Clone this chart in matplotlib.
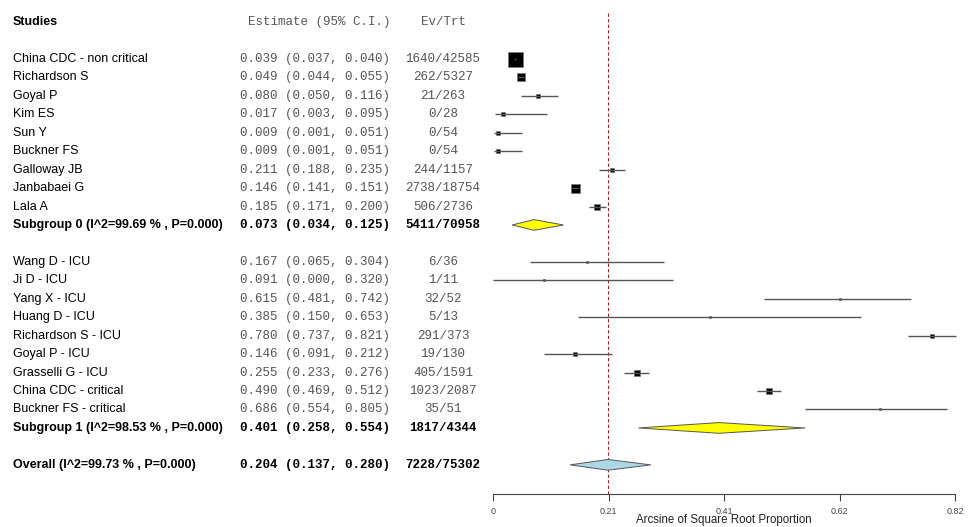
import numpy as np
import matplotlib
matplotlib.use('Agg')
import matplotlib.pyplot as plt
from matplotlib.transforms import blended_transform_factory
from matplotlib.patches import Polygon

# subgroup 0 studies
names0 = ['China CDC - non critical', 'Richardson S', 'Goyal P', 'Kim ES', 'Sun Y',
          'Buckner FS', 'Galloway JB', 'Janbabaei G', 'Lala A']
est0 = [0.039, 0.049, 0.080, 0.017, 0.009, 0.009, 0.211, 0.146, 0.185]
lo0 = [0.037, 0.044, 0.050, 0.003, 0.001, 0.001, 0.188, 0.141, 0.171]
hi0 = [0.040, 0.055, 0.116, 0.095, 0.051, 0.051, 0.235, 0.151, 0.200]
evtrt0 = ['1640/42585', '262/5327', '21/263', '0/28', '0/54', '0/54',
          '244/1157', '2738/18754', '506/2736']
w0 = [225, 64, 16, 12, 16, 16, 20, 81, 36]

# subgroup 1 studies
names1 = ['Wang D - ICU', 'Ji D - ICU', 'Yang X - ICU', 'Huang D - ICU',
          'Richardson S - ICU', 'Goyal P - ICU', 'Grasselli G - ICU',
          'China CDC - critical', 'Buckner FS - critical']
est1 = [0.167, 0.091, 0.615, 0.385, 0.780, 0.146, 0.255, 0.490, 0.686]
lo1 = [0.065, 0.000, 0.481, 0.150, 0.737, 0.091, 0.233, 0.469, 0.554]
hi1 = [0.304, 0.320, 0.742, 0.653, 0.821, 0.212, 0.276, 0.512, 0.805]
evtrt1 = ['6/36', '1/11', '32/52', '5/13', '291/373', '19/130', '405/1591',
          '1023/2087', '35/51']
w1 = [7, 7, 8, 7, 16, 11, 32, 32, 7]

# pooled
pooled_names = ['Subgroup 0 (I^2=99.69 % , P=0.000)',
                'Subgroup 1 (I^2=98.53 % , P=0.000)',
                'Overall (I^2=99.73 % , P=0.000)']
pooled_est = [0.073, 0.401, 0.204]
pooled_lo = [0.034, 0.258, 0.137]
pooled_hi = [0.125, 0.554, 0.280]
pooled_evtrt = ['5411/70958', '1817/4344', '7228/75302']

xticks = [0, 0.205, 0.41, 0.615, 0.82]
xticklabels = ['0', '0.21', '0.41', '0.62', '0.82']

fig = plt.figure(figsize=(9.75, 5.27), dpi=100)
W, H = 975, 527
ax = fig.add_axes([493 / W, 33 / H, 462 / W, 484 / H])
ax.set_xlim(0, 0.82)
ax.set_ylim(25.58, -0.65)

tr = blended_transform_factory(fig.transFigure, ax.transData)
name_font = dict(family='Liberation Sans', fontsize=9.0)
mono_font = dict(family='Liberation Mono', fontsize=9.0)

x_name = 13 / W
x_est = 240 / W
x_est_c = 319 / W
x_ev = 443 / W

# header
ax.text(x_name, 0, 'Studies', transform=tr, va='center', ha='left',
        fontweight='bold', clip_on=False, **name_font)
ax.text(x_est_c, 0, 'Estimate (95% C.I.)', transform=tr, va='center', ha='center',
        color='#555555', clip_on=False, **mono_font)
ax.text(x_ev, 0, 'Ev/Trt', transform=tr, va='center', ha='center',
        color='#555555', clip_on=False, **mono_font)


def draw_study(row, name, e, l, h, ev, w):
    ax.text(x_name, row, name, transform=tr, va='center', ha='left',
            clip_on=False, **name_font)
    ax.text(x_est, row, '%.3f (%.3f, %.3f)' % (e, l, h), transform=tr,
            va='center', ha='left', color='#555555', clip_on=False, **mono_font)
    ax.text(x_ev, row, ev, transform=tr, va='center', ha='center',
            color='#555555', clip_on=False, **mono_font)
    side = np.sqrt(w) * 0.72
    ax.scatter([e], [row], s=side ** 2, marker='s', color='black',
               edgecolors='#777777', linewidths=0.5, zorder=3, clip_on=False)
    ax.plot([l, h], [row, row], color='#555555', lw=1.0, zorder=4,
            solid_capstyle='butt', clip_on=False)


def draw_pooled(row, name, e, l, h, ev, color):
    ax.text(x_name, row, name, transform=tr, va='center', ha='left',
            fontweight='bold', clip_on=False, **name_font)
    ax.text(x_est, row, '%.3f (%.3f, %.3f)' % (e, l, h), transform=tr,
            va='center', ha='left', fontweight='bold', clip_on=False, **mono_font)
    ax.text(x_ev, row, ev, transform=tr, va='center', ha='center',
            fontweight='bold', clip_on=False, **mono_font)
    dh = 0.29
    poly = Polygon([[l, row], [e, row - dh], [h, row], [e, row + dh]],
                   closed=True, facecolor=color, edgecolor='#555555', lw=0.7,
                   zorder=3)
    ax.add_patch(poly)


for i in range(len(names0)):
    draw_study(2 + i, names0[i], est0[i], lo0[i], hi0[i], evtrt0[i], w0[i])
draw_pooled(11, pooled_names[0], pooled_est[0], pooled_lo[0], pooled_hi[0],
            pooled_evtrt[0], '#ffff00')

for i in range(len(names1)):
    draw_study(13 + i, names1[i], est1[i], lo1[i], hi1[i], evtrt1[i], w1[i])
draw_pooled(22, pooled_names[1], pooled_est[1], pooled_lo[1], pooled_hi[1],
            pooled_evtrt[1], '#ffff00')

draw_pooled(24, pooled_names[2], pooled_est[2], pooled_lo[2], pooled_hi[2],
            pooled_evtrt[2], '#add8e6')

# reference line at the overall estimate
ax.plot([pooled_est[2], pooled_est[2]], [-0.5, 25.58], color='#b22222',
        lw=0.8, ls=(0, (3, 2)), zorder=1, clip_on=False)

for s in ['top', 'right', 'left']:
    ax.spines[s].set_visible(False)
ax.spines['bottom'].set_color('#444444')
ax.spines['bottom'].set_linewidth(0.8)
ax.set_yticks([])
ax.set_xticks(xticks)
ax.set_xticklabels(xticklabels, family='Liberation Sans', fontsize=6.5,
                   color='#444444')
ax.tick_params(axis='x', direction='out', length=5, width=0.8, color='#444444',
               pad=4)
ax.set_xlabel('Arcsine of Square Root Proportion', family='Liberation Sans',
              fontsize=8.3, color='#222222', labelpad=-1)

fig.savefig('out.png', dpi=100)
